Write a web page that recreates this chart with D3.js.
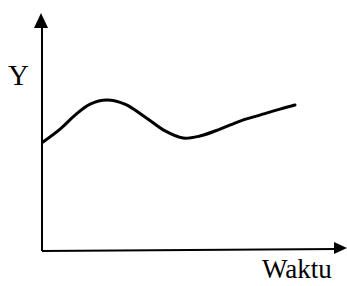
<!DOCTYPE html>
<html>
<head>
<meta charset="utf-8">
<script src="https://cdn.jsdelivr.net/npm/d3@7"></script>
<style>
  body { margin: 0; background: #fff; }
  text { font-family: "Liberation Serif", "Times New Roman", serif; fill: #000; }
</style>
</head>
<body>
<div id="chart"></div>
<script>
// time (arbitrary units) and response values
var waktu = [0, 0.57, 1.07, 1.57, 2.13, 2.73, 3.4, 4.07, 4.67, 5.23, 5.9, 6.57, 7.23, 7.9, 8.4];
var nilai = [4.74, 5.3, 5.91, 6.39, 6.57, 6.39, 5.83, 5.22, 4.91, 5.0, 5.3, 5.65, 5.91, 6.17, 6.35];
var xLabel = "Waktu";
var yLabel = "Y";

var width = 347;
var height = 286;

var svg = d3
  .select("#chart")
  .append("svg")
  .attr("width", width)
  .attr("height", height);

var x = d3.scaleLinear().domain([0, 10]).range([43, 343]);
var y = d3.scaleLinear().domain([0, 10]).range([251, 21]);

var originX = x(0);
var originY = y(0);

// y axis
svg
  .append("line")
  .attr("x1", originX - 1)
  .attr("y1", originY)
  .attr("x2", originX - 1)
  .attr("y2", 24)
  .attr("stroke", "#000")
  .attr("stroke-width", 2);
svg
  .append("path")
  .attr("d", "M" + (originX - 2) + ",13 L" + (originX + 5) + ",28 L" + (originX - 9) + ",28 Z")
  .attr("fill", "#000");

// x axis
svg
  .append("line")
  .attr("x1", originX - 1)
  .attr("y1", originY)
  .attr("x2", 338)
  .attr("y2", originY - 2)
  .attr("stroke", "#000")
  .attr("stroke-width", 2);
svg
  .append("path")
  .attr("d", "M347," + (originY - 3) + " L334," + (originY - 9) + " L334," + (originY + 3) + " Z")
  .attr("fill", "#000");

var data = waktu.map(function(t, i) {
  return { t: t, v: nilai[i] };
});

var line = d3
  .line()
  .x(function(d) {
    return x(d.t);
  })
  .y(function(d) {
    return y(d.v);
  })
  .curve(d3.curveCatmullRom);

svg
  .append("path")
  .datum(data)
  .attr("d", line)
  .attr("fill", "none")
  .attr("stroke", "#000")
  .attr("stroke-width", 3)
  .attr("stroke-linecap", "round");

svg
  .append("text")
  .attr("x", 8)
  .attr("y", 85)
  .attr("font-size", 29)
  .text(yLabel);

svg
  .append("text")
  .attr("x", 262)
  .attr("y", 278)
  .attr("font-size", 27)
  .text(xLabel);
</script>
</body>
</html>
